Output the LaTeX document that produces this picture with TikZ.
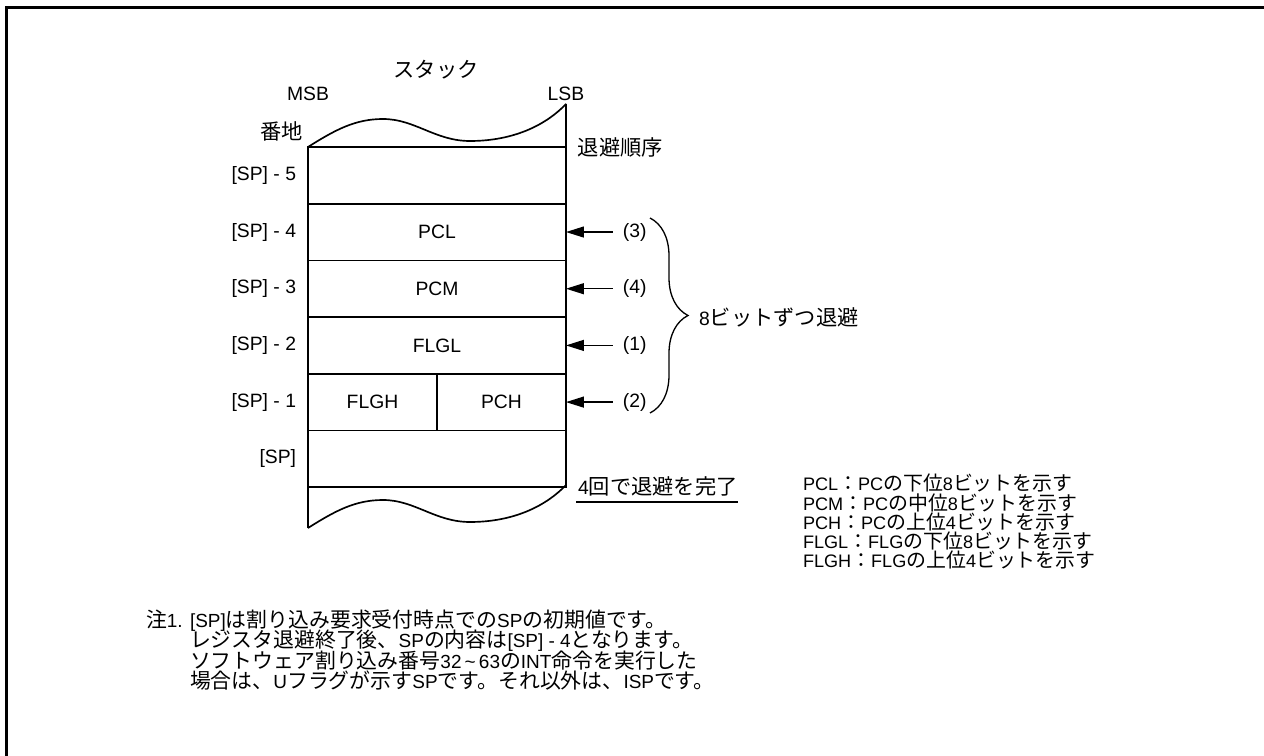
\documentclass[tikz,border=0pt]{standalone}
\usepackage{fontspec}
\setmainfont{Liberation Sans}
\newfontfamily\jp[Scale=1.1]{Noto Sans CJK JP}
\usetikzlibrary{positioning, arrows.meta, decorations.pathreplacing}

\begin{document}
\begin{tikzpicture}[
  x=0.02cm, y=-0.02cm,
  >={Triangle[length=0.36cm, width=0.22cm]},
  every node/.style={font=\fontsize{11}{13}\selectfont, inner sep=0pt, outer sep=0pt},
  cell/.style   = {draw, line width=0.95pt, minimum width=5.16cm, minimum height=1.134cm},
  half/.style   = {cell, minimum width=2.58cm},
  ord/.style    = {inner xsep=0.2cm},
  arr/.style    = {->, line width=0.75pt},
  wave/.style   = {line width=0.95pt},
  legend/.style = {anchor=base west, font=\fontsize{10.3}{12}\selectfont},
  note/.style   = {anchor=base west, font=\fontsize{10.8}{12}\selectfont},
]
  \useasboundingbox (0,0) rectangle (1264,756);
  \draw[line width=1.7pt] (6.5,7.5) rectangle (1290,780);

  % stack cells
  \node[cell] (r5) at (437,175.35) {};
  \node[cell, below=0pt of r5]   (pcl)  {PCL};
  \node[cell, below=0pt of pcl]  (pcm)  {PCM};
  \node[cell, below=0pt of pcm]  (flgl) {FLGL};
  \node[half, below right=0pt and 0pt of flgl.south west] (flgh) {FLGH};
  \node[half, right=0pt of flgh] (pch)  {PCH};
  \node[cell, below right=0pt and 0pt of flgh.south west] (r0) {};

  % torn edges
  \foreach \dy in {0,381}
    \draw[wave] (308,147+\dy) .. controls (335,130+\dy) and (355,119+\dy) .. (383,119+\dy)
      .. controls (415,119+\dy) and (435,141+\dy) .. (470,141+\dy)
      .. controls (515,141+\dy) and (547,124+\dy) .. (566,104+\dy);
  \draw[wave] (r5.north east) -- (566,104);
  \draw[wave] (r0.south west) -- (308,528);

  \node (title) at (436,70) {\jp スタック};
  \node (msb) at (308,94) {MSB};
  \node (lsb) at (566,94) {LSB};
  \node[anchor=east] (addr) at (303,131) {\jp 番地};
  \node[right=0.24cm of r5.north east] (order) {\jp 退避順序};

  % addresses
  \foreach \n/\lab in {r5/{[SP] - 5}, pcl/{[SP] - 4}, pcm/{[SP] - 3}, flgl/{[SP] - 2}, flgh/{[SP] - 1}, r0/{[SP]}}
    \node[left=0.24cm of \n] (a\n) {\lab};

  % save order
  \foreach \n/\k in {pcl/3, pcm/4, flgl/1, pch/2}{
    \node[ord, right=0.94cm of \n] (o\k) {(\k)};
    \draw[arr] (o\k) -- (\n.east);
  }
  \coordinate (btop) at (650,218);
  \coordinate (bbot) at (650,413);
  \draw[line width=0.75pt, decorate, decoration={brace, amplitude=0.76cm}] (btop) -- (bbot);
  \node[anchor=west] (bytes) at (699,317) {8{\jp ビットずつ退避}};

  \node[anchor=base west] (done) at (578,495) {4{\jp 回で退避を完了}};
  \draw[line width=0.75pt] ([xshift=-0.04cm, yshift=-0.14cm]done.base west) -- ([yshift=-0.14cm]done.base east);

  % legend
  \foreach \i/\txt in {0/{PCL{\jp ：}PC{\jp の下位}8{\jp ビットを示す}},
                       1/{PCM{\jp ：}PC{\jp の中位}8{\jp ビットを示す}},
                       2/{PCH{\jp ：}PC{\jp の上位}4{\jp ビットを示す}},
                       3/{FLGL{\jp ：}FLG{\jp の下位}8{\jp ビットを示す}},
                       4/{FLGH{\jp ：}FLG{\jp の上位}4{\jp ビットを示す}}}
    \node[legend] (key\i) at (803,491+19.2*\i) {\txt};

  % note
  \node[note] (mark) at (146,627) {{\jp 注}1.};
  \foreach \i/\txt in {0/{[SP]{\jp は割り込み要求受付時点での}SP{\jp の初期値です。}},
                       1/{{\jp レジスタ退避終了後、}SP{\jp の内容は}[SP] - 4{\jp となります。}},
                       2/{{\jp ソフトウェア割り込み番号}32\,\textasciitilde\,63{\jp の}INT{\jp 命令を実行した}},
                       3/{{\jp 場合は、}U{\jp フラグが示す}SP{\jp です。それ以外は、}ISP{\jp です。}}}
    \node[note] (note\i) at (190,627+20.5*\i) {\txt};
\end{tikzpicture}
\end{document}
